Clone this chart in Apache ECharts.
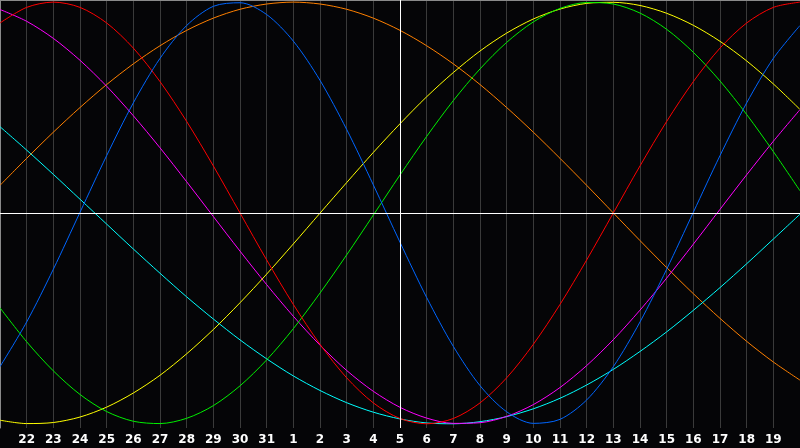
<!DOCTYPE html>
<html>
<head>
<meta charset="utf-8">
<script src="https://cdn.jsdelivr.net/npm/echarts@6/dist/echarts.min.js"></script>
<style>
  html, body { margin: 0; padding: 0; background: #050507; }
  #chart { width: 800px; height: 448px; }
</style>
</head>
<body>
<div id="chart"></div>
<script>
// days shown: 21st of last month through 20th of this month
const days = ["21", "22", "23", "24", "25", "26", "27", "28", "29", "30", "31",
  "1", "2", "3", "4", "5", "6", "7", "8", "9", "10",
  "11", "12", "13", "14", "15", "16", "17", "18", "19", "20"];

// curve values in percent
const blueVals = [-72.9, -51.7, -26.7, 0.3, 27.2, 52.2, 73.3, 88.9, 98.0, 99.7, 94.1, 81.5, 62.9, 39.6, 13.3,
  -13.9, -40.1, -63.3, -81.9, -94.3, -99.8, -97.9, -88.7, -72.9, -51.7, -26.7, 0.3, 27.2, 52.2, 73.3, 88.9];
const redVals = [90.1, 97.5, 100, 97.5, 90.1, 78.2, 62.3, 43.4, 22.3, 0, -22.3, -43.4, -62.3, -78.2, -90.1,
  -97.5, -100, -97.5, -90.1, -78.2, -62.3, -43.4, -22.3, 0, 22.3, 43.4, 62.3, 78.2, 90.1, 97.5, 100];
const greenVals = [-45.0, -61.1, -74.9, -86.1, -94.2, -98.8, -99.9, -97.4, -91.4, -82.0, -69.7, -54.9, -38.0, -19.9, -1.0,
  18.0, 36.3, 53.3, 68.3, 80.9, 90.6, 97.0, 99.8, 99.1, 94.8, 87.1, 76.2, 62.6, 46.7, 29.1, 10.5];
const magentaVals = [96.5, 90.9, 82.8, 72.4, 60.1, 46.1, 30.9, 14.8, -1.7, -18.1, -34.0, -49.0, -62.7, -74.7, -84.6,
  -92.2, -97.3, -99.8, -99.5, -96.5, -90.9, -82.8, -72.4, -60.1, -46.1, -30.9, -14.8, 1.7, 18.1, 34.0, 49.0];
const yellowVals = [-98.3, -99.9, -99.4, -96.8, -92.1, -85.4, -77.0, -66.8, -55.3, -42.6, -29.0, -14.7, -0.1, 14.4, 28.7,
  42.3, 55.1, 66.6, 76.8, 85.3, 92.0, 96.7, 99.4, 99.9, 98.4, 94.7, 89.0, 81.4, 72.1, 61.2, 49.1];
const orangeVals = [13.1, 25.9, 38.3, 50.0, 60.9, 70.7, 79.3, 86.6, 92.4, 96.6, 99.1, 100, 99.1, 96.6, 92.4,
  86.6, 79.3, 70.7, 60.9, 50.0, 38.3, 25.9, 13.1, 0, -13.1, -25.9, -38.3, -50.0, -60.9, -70.7, -79.3];
const cyanVals = [40.9, 29.8, 18.3, 6.5, -5.3, -17.1, -28.6, -39.8, -50.3, -60.2, -69.2, -77.3, -84.2, -90.0, -94.5,
  -97.7, -99.6, -100.0, -99.0, -96.6, -92.9, -87.9, -81.6, -74.2, -65.7, -56.4, -46.2, -35.4, -24.1, -12.4, -0.6];

const todayIndex = 15; // the white vertical marker, on "5"

const curves = [
  { name: "orange", data: orangeVals, color: "#ff8000" },
  { name: "cyan", data: cyanVals, color: "#00ffff" },
  { name: "magenta", data: magentaVals, color: "#ff00ff" },
  { name: "yellow", data: yellowVals, color: "#ffff00" },
  { name: "green", data: greenVals, color: "#00f000" },
  { name: "red", data: redVals, color: "#ff0000" },
  { name: "blue", data: blueVals, color: "#0066ff" },
];

const chart = echarts.init(document.getElementById("chart"));

const series = curves.map((c) => ({
  name: c.name,
  type: "line",
  data: c.data,
  smooth: 0.3,
  symbol: "none",
  lineStyle: { color: c.color, width: 1 },
  z: 3,
}));

// white centre cross
series.push({
  type: "line",
  data: [],
  markLine: {
    silent: true,
    symbol: "none",
    label: { show: false },
    lineStyle: { color: "#ffffff", width: 1, type: "solid" },
    data: [{ xAxis: todayIndex }, { yAxis: 0 }],
  },
  z: 2,
});

const options = {
  backgroundColor: "#050507",
  animation: false,
  grid: { left: 0, right: 0, top: 0, bottom: 20 },
  xAxis: [
    {
      type: "category",
      data: days,
      boundaryGap: false,
      axisLine: { show: true, lineStyle: { color: "#9a9a9a", width: 1 } },
      axisTick: { show: false },
      axisLabel: {
        color: "#ffffff",
        fontFamily: "DejaVu Sans",
        fontWeight: "bold",
        fontSize: 12,
        margin: 6,
        interval: (i) => i > 0 && i < days.length - 1,
      },
      splitLine: { show: true, interval: 0, lineStyle: { color: "#3a3a3a", width: 1 } },
    },
    {
      type: "category",
      data: days,
      position: "top",
      boundaryGap: false,
      axisLine: { show: true, lineStyle: { color: "#8a8a8a", width: 1 } },
      axisTick: { show: false },
      axisLabel: { show: false },
      splitLine: { show: false },
    },
  ],
  yAxis: {
    type: "value",
    min: -102,
    max: 101,
    axisLine: { show: true, lineStyle: { color: "#8a8a8a", width: 1 } },
    axisTick: { show: false },
    axisLabel: { show: false },
    splitLine: { show: false },
  },
  series: series,
};

chart.setOption(options);
</script>
</body>
</html>
